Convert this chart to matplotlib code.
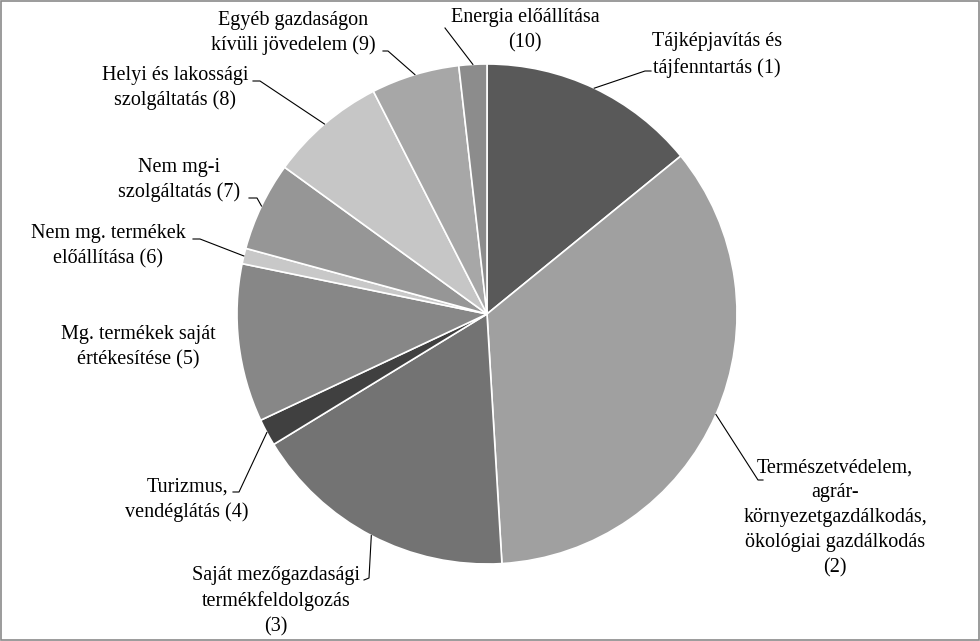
import numpy as np
import matplotlib
matplotlib.use("Agg")
import matplotlib.pyplot as plt

plt.rcParams['font.family'] = ['Liberation Serif', 'DejaVu Serif']

labels = ['Tájképjavítás és\ntájfenntartás (1)',
          'Természetvédelem,\nagrár-\nkörnyezetgazdálkodás,\nökológiai gazdálkodás\n(2)',
          'Saját mezőgazdasági\ntermékfeldolgozás\n(3)',
          'Turizmus,\nvendéglátás (4)',
          'Mg. termékek saját\nértékesítése (5)',
          'Nem mg. termékek\nelőállítása (6)',
          'Nem mg-i\nszolgáltatás (7)',
          'Helyi és lakossági\nszolgáltatás (8)',
          'Egyéb gazdaságon\nkívüli jövedelem (9)',
          'Energia előállítása\n(10)']
values = [14.1, 34.9, 17.2, 1.75, 10.2, 1.0, 5.75, 7.5, 5.7, 1.8]
colors = ['#595959', '#a0a0a0', '#737373', '#404040', '#878787',
          '#c8c8c8', '#969696', '#c6c6c6', '#a7a7a7', '#8c8c8c']

# layout (pixel space): label block centres, leader knee and end points
text_pos = [(717, 55), (835, 518), (276, 601), (187, 500), (138, 347),
            (108, 246), (179, 180), (175, 88), (293, 33), (525, 30)]
knees = [(645, 71), (758, 480), (369, 578), (239, 492), None,
         (200, 239), (257, 198), (260, 81), (388, 51), (445, 28)]
ends = [(651, 71), (763, 480), (364, 580), (233, 492), None,
        (193, 239), (249, 198), (253, 81), (383, 51), (445, 28)]

cx, cy, r = 487, 314, 250

fig = plt.figure(figsize=(9.8, 6.41), dpi=100)
ax = fig.add_axes([0, 0, 1, 1])
ax.pie(values, colors=colors, startangle=-90, counterclock=True,
       center=(cx, cy), radius=r,
       wedgeprops=dict(edgecolor='white', linewidth=1.2))
ax.set_xlim(0, 980)
ax.set_ylim(641, 0)
ax.set_aspect('auto')
ax.axis('off')

frac = np.array(values) / np.sum(values)
mids = (np.cumsum(frac) - frac / 2) * 2 * np.pi
for i, lab in enumerate(labels):
    ax.text(text_pos[i][0], text_pos[i][1], lab, ha='center', va='center',
            fontsize=14.5, linespacing=1.42, multialignment='center')
    if knees[i] is None:
        continue
    ex = cx + r * np.sin(mids[i])
    ey = cy - r * np.cos(mids[i])
    ax.plot([ex, knees[i][0], ends[i][0]], [ey, knees[i][1], ends[i][1]],
            color='black', lw=0.8)

# outer frame
fig.patches.append(plt.Rectangle((0.001, 0.0015), 0.998, 0.997,
                                 transform=fig.transFigure, fill=False,
                                 edgecolor='#8a8a8a', lw=1.2))

fig.savefig('out.png', dpi=100, facecolor='white')
